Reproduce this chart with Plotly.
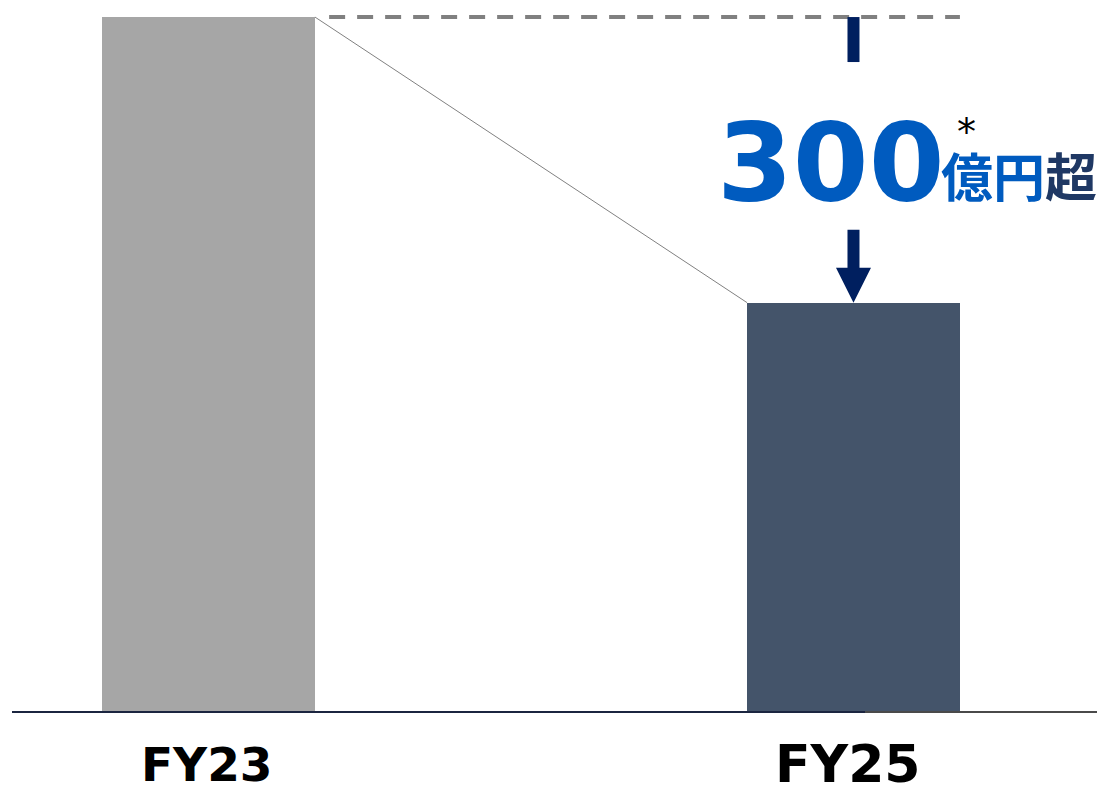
import plotly.graph_objects as go

# Chart data
categories = ["FY23", "FY25"]
values = [730, 430]
bar_colors = ["#a6a6a6", "#44546a"]
reduction_label = "300"
unit_label_blue = "億円"
unit_label_navy = "超"

W, H = 1104, 788
BAR_W = 0.33

fig = go.Figure()
fig.add_trace(go.Bar(
    x=[0, 1], y=values, width=BAR_W,
    marker=dict(color=bar_colors, line=dict(width=0)),
    hoverinfo="skip", showlegend=False,
))

# axis ranges chosen so category centres sit near 208 px / 853 px
fig.update_xaxes(range=[-0.3233, 1.3884], visible=False, fixedrange=True)
fig.update_yaxes(range=[-79.8, 747.9], visible=False, fixedrange=True)

shapes = []
# baseline (navy part then grey part)
shapes.append(dict(type="line", xref="paper", yref="y", x0=12 / W, x1=865 / W, y0=0, y1=0,
                   line=dict(color="#1b2540", width=2)))
shapes.append(dict(type="line", xref="paper", yref="y", x0=865 / W, x1=1097 / W, y0=0, y1=0,
                   line=dict(color="#4a4a4a", width=2)))
# connector between bar tops
shapes.append(dict(type="line", xref="x", yref="y",
                   x0=0 + BAR_W / 2, y0=values[0], x1=1 - BAR_W / 2, y1=values[1],
                   line=dict(color="#808080", width=1)))
# dashed reference at previous level
shapes.append(dict(type="line", xref="x", yref="y",
                   x0=0 + BAR_W / 2 + 0.022, y0=values[0], x1=1 + BAR_W / 2, y1=values[0],
                   line=dict(color="#808080", width=4, dash="16px,12px")))
# arrow: short stub below reference line
shapes.append(dict(type="path", xref="x", yref="y", xsizemode="pixel", ysizemode="pixel",
                   xanchor=1, yanchor=values[0],
                   path="M -6,0 L 6,0 L 6,-45 L -6,-45 Z",
                   fillcolor="#001f5f", line=dict(width=0)))
# arrow: shaft and head pointing at FY25 bar
shapes.append(dict(type="path", xref="x", yref="y", xsizemode="pixel", ysizemode="pixel",
                   xanchor=1, yanchor=values[1],
                   path="M 0,0 L -17.5,35 L -6,35 L -6,73 L 6,73 L 6,35 L 17.5,35 Z",
                   fillcolor="#001f5f", line=dict(width=0)))

annotations = []
for i, (cat, fs) in enumerate(zip(categories, [47, 52])):
    annotations.append(dict(x=i, y=0, xref="x", yref="y", text=f"<b>{cat}</b>",
                            showarrow=False, xanchor="center", yanchor="middle",
                            xshift=-2 if i == 0 else -5, yshift=-52,
                            font=dict(family="DejaVu Sans", size=fs, color="#000000")))

annotations.append(dict(x=1, y=values[1], xref="x", yref="y", text=f"<b>{reduction_label}</b>",
                        showarrow=False, xanchor="center", yanchor="middle",
                        xshift=-22, yshift=140,
                        font=dict(family="DejaVu Sans", size=109, color="#005bbf")))
annotations.append(dict(x=1, y=values[1], xref="x", yref="y",
                        text=f"<b>{unit_label_blue}<span style='color:#1f3864'>{unit_label_navy}</span></b>",
                        showarrow=False, xanchor="center", yanchor="middle",
                        xshift=166, yshift=128,
                        font=dict(family="Noto Sans CJK JP", size=52, color="#005bbf")))
annotations.append(dict(x=1, y=values[1], xref="x", yref="y", text="*",
                        showarrow=False, xanchor="center", yanchor="middle",
                        xshift=113, yshift=171,
                        font=dict(family="DejaVu Sans", size=38, color="#000000")))

fig.update_layout(
    width=W, height=H,
    margin=dict(l=0, r=0, t=0, b=0),
    paper_bgcolor="#ffffff", plot_bgcolor="#ffffff",
    shapes=shapes, annotations=annotations,
    bargap=0, showlegend=False,
)

fig.write_html("out.html", config={"displayModeBar": False})
